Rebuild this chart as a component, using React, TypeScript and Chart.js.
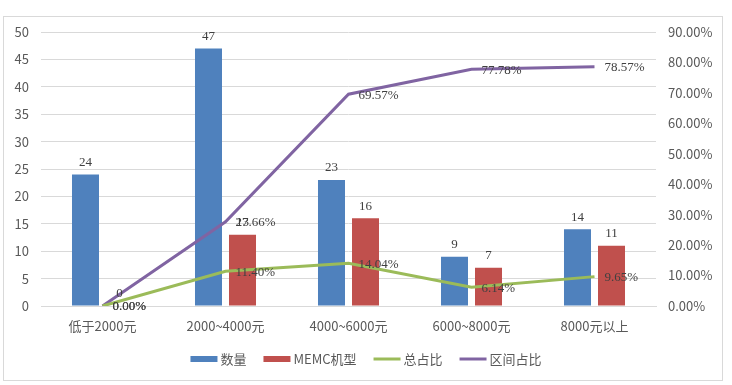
import React, { useEffect, useRef } from 'react';
import { Chart, registerables } from 'chart.js';

Chart.register(...registerables);

const categories = ['低于2000元', '2000~4000元', '4000~6000元', '6000~8000元', '8000元以上'];
const countValues = [24, 47, 23, 9, 14];
const memcValues = [0, 13, 16, 7, 11];
const totalShare = [0, 11.4, 14.04, 6.14, 9.65];
const rangeShare = [0, 27.66, 69.57, 77.78, 78.57];
const seriesNames = ['数量', 'MEMC机型', '总占比', '区间占比'];
const leftAxis = { min: 0, max: 50, step: 5 };
const rightAxis = { min: 0, max: 90, step: 10 };

const BLUE = '#4F81BD';
const RED = '#C0504D';
const GREEN = '#9BBB59';
const PURPLE = '#8064A2';
const AXIS_TEXT = '#595959';
const LABEL_TEXT = '#404040';
const SANS = "'Noto Sans CJK SC', 'Noto Sans', sans-serif";

const valueLabels = {
  id: 'valueLabels',
  afterDatasetsDraw(chart: any) {
    const ctx = chart.ctx;
    ctx.save();
    ctx.font = "13px 'Liberation Serif', serif";
    ctx.fillStyle = LABEL_TEXT;
    chart.data.datasets.forEach((ds: any, i: number) => {
      const meta = chart.getDatasetMeta(i);
      meta.data.forEach((el: any, j: number) => {
        const v = ds.data[j];
        if (ds.type === 'bar') {
          ctx.textAlign = 'center';
          ctx.textBaseline = 'middle';
          ctx.fillText(String(v), el.x, el.y - 12);
        } else {
          ctx.textAlign = 'left';
          ctx.textBaseline = 'middle';
          ctx.fillText(v.toFixed(2) + '%', el.x + 10, el.y + 1);
        }
      });
    });
    ctx.restore();
  },
};

const customLegend = {
  id: 'customLegend',
  afterDraw(chart: any) {
    const ctx = chart.ctx;
    const y = 359;
    const boxW = 27;
    const textGap = 3;
    const itemGap = 17;
    ctx.save();
    ctx.font = `13px ${SANS}`;
    ctx.textBaseline = 'middle';
    ctx.textAlign = 'left';
    const ds = chart.data.datasets;
    const widths = ds.map((d: any) => boxW + textGap + ctx.measureText(d.label).width);
    const total = widths.reduce((a: number, b: number) => a + b, 0) + itemGap * (ds.length - 1);
    let x = chart.width / 2 - total / 2;
    ds.forEach((d: any, i: number) => {
      if (d.type === 'bar') {
        ctx.fillStyle = d.backgroundColor;
        ctx.fillRect(x, y - 3, boxW, 6);
      } else {
        ctx.strokeStyle = d.borderColor;
        ctx.lineWidth = 3;
        ctx.beginPath();
        ctx.moveTo(x, y);
        ctx.lineTo(x + boxW, y);
        ctx.stroke();
      }
      ctx.fillStyle = AXIS_TEXT;
      ctx.fillText(d.label, x + boxW + textGap, y);
      x += widths[i] + itemGap;
    });
    ctx.restore();
  },
};

export default function App() {
  const ref = useRef<HTMLCanvasElement | null>(null);

  useEffect(() => {
    if (!ref.current) return;
    const chart = new Chart(ref.current, {
      data: {
        labels: categories,
        datasets: [
          {
            type: 'bar',
            label: seriesNames[0],
            data: countValues,
            backgroundColor: BLUE,
            yAxisID: 'y',
            order: 1,
            categoryPercentage: 0.553,
            barPercentage: 0.794,
          },
          {
            type: 'bar',
            label: seriesNames[1],
            data: memcValues,
            backgroundColor: RED,
            yAxisID: 'y',
            order: 1,
            categoryPercentage: 0.553,
            barPercentage: 0.794,
          },
          {
            type: 'line',
            label: seriesNames[2],
            data: totalShare,
            borderColor: GREEN,
            backgroundColor: GREEN,
            borderWidth: 3,
            pointRadius: 0,
            tension: 0,
            yAxisID: 'y1',
            order: 0,
          },
          {
            type: 'line',
            label: seriesNames[3],
            data: rangeShare,
            borderColor: PURPLE,
            backgroundColor: PURPLE,
            borderWidth: 3,
            pointRadius: 0,
            tension: 0,
            yAxisID: 'y1',
            order: 0,
          },
        ] as any,
      },
      options: {
        responsive: false,
        animation: false,
        layout: { padding: { top: 32, left: 0, right: 0, bottom: 51 } },
        plugins: {
          tooltip: { enabled: false },
          legend: { display: false },
        },
        scales: {
          x: {
            grid: { display: false, drawTicks: false },
            border: { display: true, color: '#d9d9d9' },
            ticks: { color: AXIS_TEXT, font: { family: SANS, size: 13 }, padding: 12 },
            afterFit: (s: any) => { s.height = 28; },
          },
          y: {
            position: 'left',
            min: leftAxis.min,
            max: leftAxis.max,
            ticks: { stepSize: leftAxis.step, color: AXIS_TEXT, font: { family: SANS, size: 13 }, padding: 12 },
            grid: { color: '#d9d9d9', drawTicks: false },
            border: { display: false },
            afterFit: (s: any) => { s.width = 41; },
          },
          y1: {
            position: 'right',
            min: rightAxis.min,
            max: rightAxis.max,
            ticks: {
              stepSize: rightAxis.step,
              color: AXIS_TEXT,
              font: { family: SANS, size: 13 },
              padding: 12,
              callback: (v: any) => Number(v).toFixed(2) + '%',
            },
            grid: { display: false, drawTicks: false },
            border: { display: false },
            afterFit: (s: any) => { s.width = 76; },
          },
        },
      },
      plugins: [valueLabels, customLegend],
    } as any);
    return () => chart.destroy();
  }, []);

  return (
    <div style={{ position: 'absolute', left: 0, top: 0, width: 732, height: 385, background: '#fff' }}>
      <div
        style={{
          position: 'absolute',
          left: 3,
          top: 16,
          width: 718,
          height: 363,
          border: '1px solid #d9d9d9',
        }}
      />
      <canvas ref={ref} width={732} height={385} style={{ position: 'absolute', left: 0, top: 0 }} />
    </div>
  );
}
